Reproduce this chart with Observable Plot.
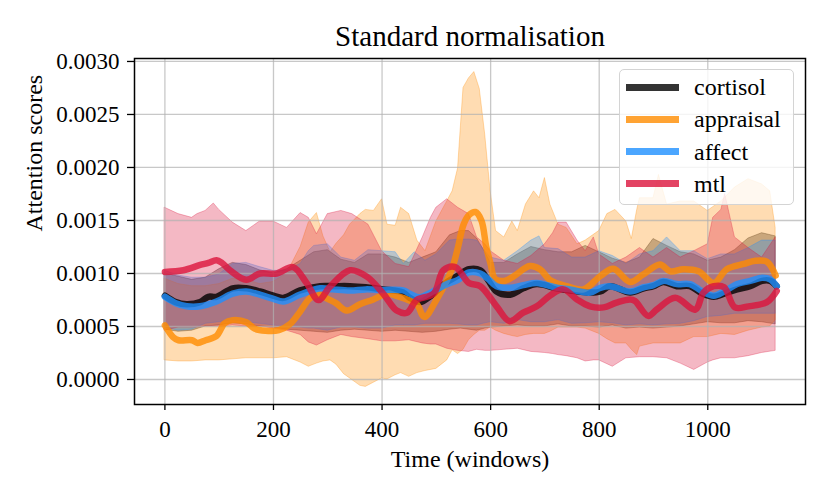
<!DOCTYPE html>
<html>
<head>
<meta charset="utf-8">
<script src="https://cdn.jsdelivr.net/npm/d3@7"></script>
<script src="https://cdn.jsdelivr.net/npm/@observablehq/plot@0.6"></script>
<style>
  body { margin: 0; background: #fff; }
  #wrap { position: relative; width: 830px; height: 498px; font-family: "Liberation Serif", serif; }
  #legend { position: absolute; left: 619px; top: 69px; width: 175px; height: 136px; box-sizing: border-box;
    border: 1.3px solid #d4d4d4; border-radius: 5px; background: rgba(255,255,255,0.8); }
  .row { position: absolute; left: 0; height: 32px; width: 170px; }
  .sw { position: absolute; left: 6px; top: 12.5px; width: 53px; height: 7px; }
  .lb { position: absolute; left: 74px; top: 0; line-height: 32px; font-size: 24px; color: #000; }
</style>
</head>
<body>
<div id="wrap"></div>
<script>
// values in units of 1e-4
const series = ["cortisol", "appraisal", "affect", "mtl"];
const colors = ["black", "darkorange", "dodgerblue", "crimson"];
const xTicks = [0, 200, 400, 600, 800, 1000];
const yTicks = [0, 0.0005, 0.001, 0.0015, 0.002, 0.0025, 0.003];

// [t, mean]
const cortisolMean = [[0,7.9],[20,7.3],[40,7.1],[65,7.3],[80,7.8],[95,7.8],[125,8.6],[150,8.6],[175,8.3],[200,7.9],[218,7.7],[249,8.4],[286,8.8],[310,8.8],[341,8.8],[370,8.7],[402,8.5],[439,8.2],[451,7.7],[470,7.3],[490,7.9],[520,9.2],[540,9.8],[560,10.4],[581,10.3],[595,9.4],[611,8.3],[636,8.0],[660,8.6],[685,9.0],[722,8.6],[746,8.4],[783,8.2],[802,8.3],[820,8.8],[857,8.2],[882,8.6],[900,8.8],[918,9.2],[943,8.8],[967,8.8],[990,8.1],[1011,7.8],[1030,8.1],[1054,8.5],[1078,8.8],[1100,9.3],[1115,9.3],[1127,8.8]];
const appraisalMean = [[0,5.1],[15,4.0],[25,3.7],[50,3.7],[60,3.45],[75,3.7],[95,4.1],[110,5.3],[125,5.6],[150,5.4],[165,4.8],[185,4.6],[210,4.65],[230,5.2],[249,6.4],[268,7.7],[286,8.0],[298,7.65],[315,7.2],[335,6.5],[359,7.1],[384,7.55],[410,8.1],[425,7.9],[446,7.55],[464,7.1],[478,5.9],[500,7.5],[520,9.4],[530,10.6],[540,12.5],[550,14.6],[560,15.5],[572,15.8],[583,15.0],[592,12.5],[600,10.9],[608,9.5],[625,9.3],[643,9.75],[672,10.7],[691,10.4],[709,9.4],[740,8.8],[771,8.5],[802,9.75],[826,10.45],[857,9.2],[881,9.9],[912,10.85],[931,10.2],[955,10.4],[983,10.2],[1011,9.1],[1035,10.4],[1066,10.9],[1088,11.2],[1109,11.1],[1125,9.8]];
const affectMean = [[0,7.8],[20,7.2],[40,6.9],[65,6.9],[95,7.35],[125,8.1],[150,8.3],[175,8.0],[200,7.6],[218,7.35],[249,8.0],[286,8.6],[310,8.5],[341,8.4],[370,8.5],[402,8.45],[439,8.4],[451,8.1],[470,7.75],[490,8.2],[520,9.0],[540,9.4],[560,10.1],[581,10.0],[595,9.5],[611,8.8],[636,8.65],[660,8.9],[685,9.1],[722,8.65],[746,8.5],[783,8.2],[802,8.65],[820,8.8],[857,8.3],[882,8.7],[900,8.9],[918,9.3],[943,9.0],[967,9.0],[990,8.3],[1011,7.9],[1030,8.3],[1054,9.0],[1078,9.3],[1100,9.6],[1115,9.45],[1127,8.8]];
const mtlMean = [[0,10.15],[34,10.3],[65,10.8],[80,11.0],[95,11.25],[105,11.0],[120,10.3],[150,9.4],[175,10.0],[206,10.0],[236,10.6],[261,9.1],[283,7.5],[304,8.75],[341,10.3],[372,9.7],[402,8.1],[427,6.5],[446,6.3],[464,7.5],[495,8.1],[513,10.3],[535,10.6],[560,9.1],[581,8.8],[611,6.9],[635,5.5],[660,6.3],[685,6.9],[709,7.9],[734,8.5],[759,7.55],[783,6.9],[808,6.8],[832,7.25],[857,7.55],[866,7.4],[890,6.0],[906,6.6],[940,7.7],[977,6.6],[992,8.2],[1011,8.8],[1030,8.7],[1050,6.8],[1075,6.9],[1109,7.3],[1127,8.35]];

// [t, lower, upper]
const cortisolBand = [[0,4.7,10.0],[25,4.5,9.7],[50,4.6,9.4],[75,5.0,9.6],[100,5.1,10.4],[125,5.3,11.0],[150,5.2,10.8],[175,5.0,10.3],[200,4.9,10.0],[225,4.7,10.4],[250,4.6,11.2],[275,4.5,12.0],[300,4.4,12.2],[325,4.6,11.3],[350,4.7,11.0],[375,4.6,11.8],[400,4.5,11.8],[425,4.6,11.5],[450,4.5,11.0],[475,4.4,11.5],[500,4.5,12.0],[525,4.7,13.6],[545,4.8,14.0],[560,4.7,14.0],[575,4.6,13.3],[590,4.8,12.0],[600,4.9,11.0],[625,5.0,11.0],[650,5.1,11.8],[675,5.0,12.5],[700,5.0,12.2],[725,5.2,12.0],[750,5.0,12.0],[775,5.0,12.6],[800,4.9,12.0],[825,5.1,11.4],[850,4.8,11.0],[875,4.9,11.5],[900,4.8,13.25],[925,4.9,12.6],[950,5.0,12.0],[975,5.2,11.8],[1000,5.4,11.2],[1025,5.3,11.5],[1050,5.3,12.2],[1075,5.5,13.3],[1100,5.4,13.8],[1125,5.2,13.5]];
const appraisalBand = [[0,1.8,9.5],[25,1.7,9.0],[50,1.7,8.8],[75,1.8,8.8],[100,1.8,9.0],[125,1.9,9.5],[150,2.0,9.4],[175,2.0,9.0],[200,2.0,9.2],[225,2.1,10.0],[250,1.6,12.5],[265,1.2,14.8],[280,1.5,15.7],[292,1.7,13.5],[305,1.8,12.0],[316,1.4,12.8],[330,0.5,13.6],[341,0.1,14.6],[360,-0.6,15.6],[370,-0.7,16.0],[385,-0.3,15.9],[400,0.1,17.0],[410,0.0,14.6],[425,0.4,14.5],[435,0.6,16.2],[450,0.25,15.6],[465,0.6,13.1],[480,0.8,12.1],[500,1.0,14.9],[520,1.8,16.8],[530,2.75,17.75],[540,2.4,19.9],[550,2.8,27.5],[560,3.7,28.4],[570,4.2,29.0],[580,4.6,27.4],[590,4.6,23.1],[600,4.9,17.75],[610,4.6,14.0],[625,4.3,13.4],[640,4.1,14.9],[650,4.0,14.0],[665,4.2,16.5],[680,4.3,17.75],[690,4.3,17.1],[700,4.3,19.0],[710,4.5,16.5],[725,4.9,14.6],[740,4.9,14.3],[760,4.9,12.75],[775,4.8,13.1],[800,4.3,14.0],[815,3.8,15.6],[830,3.4,16.0],[850,3.4,14.9],[860,2.8,13.25],[870,2.3,16.0],[875,3.1,17.1],[900,3.4,17.1],[910,3.4,19.3],[925,3.4,16.5],[950,3.4,16.8],[975,4.0,16.8],[1000,4.0,15.9],[1025,4.3,16.8],[1050,4.2,18.1],[1075,4.6,18.9],[1100,4.9,18.4],[1115,5.0,17.75],[1125,5.6,14.3]];
const affectBand = [[0,4.9,10.25],[25,4.6,9.8],[50,4.7,9.6],[75,5.25,9.6],[100,5.4,9.9],[125,5.6,10.9],[150,5.4,11.0],[175,5.25,10.6],[200,5.1,10.25],[225,4.9,10.25],[250,4.9,10.9],[265,4.8,12.1],[275,4.8,12.6],[300,4.6,12.75],[325,4.9,11.5],[350,4.9,11.2],[375,4.8,12.2],[400,4.8,12.1],[425,5.1,12.0],[440,5.1,10.9],[460,5.1,12.0],[480,5.25,11.2],[500,5.25,11.8],[525,5.25,13.1],[540,5.2,13.2],[560,5.1,13.2],[575,5.1,13.1],[590,5.3,12.1],[600,5.4,11.5],[625,5.25,11.2],[650,5.6,12.1],[675,5.4,13.1],[690,5.4,13.5],[700,5.4,12.4],[725,5.6,12.3],[750,5.25,11.5],[775,5.3,11.5],[800,5.4,12.1],[825,5.3,11.65],[850,5.1,10.9],[875,5.2,11.8],[900,5.1,12.1],[925,5.2,13.4],[950,5.25,12.1],[975,5.5,12.1],[1000,5.9,11.35],[1025,6.0,11.8],[1050,6.2,11.8],[1075,6.2,12.4],[1100,6.2,13.1],[1125,6.2,13.1]];
const mtlBand = [[0,4.6,16.2],[25,4.9,15.6],[50,4.9,15.25],[60,4.9,15.6],[75,5.0,15.9],[90,5.0,16.6],[100,5.0,16.0],[125,5.1,14.8],[150,5.0,14.0],[175,5.0,14.9],[200,4.8,14.9],[225,4.6,14.3],[250,4.2,15.7],[265,3.5,15.25],[280,3.2,13.7],[300,3.7,15.6],[325,4.2,15.9],[345,4.0,15.6],[375,3.8,14.6],[400,3.6,12.1],[425,3.6,10.9],[450,3.7,10.6],[475,3.4,13.4],[490,3.3,15.25],[500,3.3,16.2],[520,2.9,17.0],[540,2.7,16.2],[560,2.6,15.6],[575,2.8,13.4],[590,2.7,12.75],[600,2.7,12.1],[625,2.8,11.2],[650,2.9,10.9],[675,2.6,11.65],[700,2.5,12.75],[715,2.4,13.8],[725,2.3,14.8],[740,2.2,14.8],[760,2.0,13.1],[775,1.7,12.1],[790,1.8,13.4],[800,1.8,11.8],[825,1.2,10.9],[850,2.0,11.5],[875,2.1,12.4],[900,2.1,11.5],[925,2.0,12.4],[950,1.5,11.5],[975,0.9,12.1],[1000,1.6,12.75],[1010,1.8,15.25],[1025,2.0,16.0],[1032,2.0,17.5],[1050,2.0,13.4],[1075,2.2,12.4],[1100,2.5,11.5],[1125,2.7,13.4]];

const bands = [cortisolBand, appraisalBand, affectBand, mtlBand];
const means = [cortisolMean, appraisalMean, affectMean, mtlMean];
const S = 1e-4;

const fillMarks = bands.map((b, i) => Plot.area(b, {
  x1: d => d[0], y1: d => d[1] * S, y2: d => d[2] * S,
  fill: colors[i], fillOpacity: 0.3, stroke: colors[i], strokeOpacity: 0.3, strokeWidth: 1
}));
const lineMarks = means.map((m, i) => Plot.line(m, {
  x: d => d[0], y: d => d[1] * S, stroke: colors[i], strokeOpacity: 0.8,
  strokeWidth: 6.5, curve: "catmull-rom", strokeLinejoin: "round"
}));

const chart = Plot.plot({
  width: 830, height: 498,
  marginLeft: 134, marginRight: 25, marginTop: 58, marginBottom: 94,
  style: { fontFamily: "'Liberation Serif', serif", fontSize: "23px", background: "white", overflow: "visible" },
  x: { domain: [-56, 1180] },
  y: { domain: [-0.000236, 0.003028] },
  marks: [
    ...fillMarks,
    Plot.gridX(xTicks, { stroke: "#b0b0b0", strokeOpacity: 0.7, strokeWidth: 1.3 }),
    Plot.gridY(yTicks, { stroke: "#b0b0b0", strokeOpacity: 0.7, strokeWidth: 1.3 }),
    ...lineMarks,
    Plot.axisX(xTicks, { tickSize: 6, tickPadding: 10, strokeWidth: 1.3, fontSize: 23, label: null, tickFormat: d => String(d) }),
    Plot.axisY(yTicks, { tickSize: 7, tickPadding: 8, strokeWidth: 1.3, fontSize: 23, label: null, tickFormat: d3.format(".4f") }),
    Plot.frame({ stroke: "black", strokeWidth: 1.5 }),
    Plot.text(["Standard normalisation"], { frameAnchor: "top", dy: -22, fontSize: 29, lineAnchor: "middle" }),
    Plot.text(["Time (windows)"], { frameAnchor: "bottom", dy: 55, fontSize: 24, lineAnchor: "middle" }),
    Plot.text(["Attention scores"], { frameAnchor: "left", dx: -100, rotate: -90, fontSize: 24, lineAnchor: "middle" })
  ]
});

const wrap = document.getElementById("wrap");
wrap.appendChild(chart);

const legend = document.createElement("div");
legend.id = "legend";
series.forEach((name, i) => {
  const row = document.createElement("div");
  row.className = "row";
  row.style.top = (1.3 + i * 32.1) + "px";
  const sw = document.createElement("div");
  sw.className = "sw";
  sw.style.background = colors[i];
  sw.style.opacity = 0.8;
  const lb = document.createElement("div");
  lb.className = "lb";
  lb.textContent = name;
  row.appendChild(sw); row.appendChild(lb);
  legend.appendChild(row);
});
wrap.appendChild(legend);
</script>
</body>
</html>
